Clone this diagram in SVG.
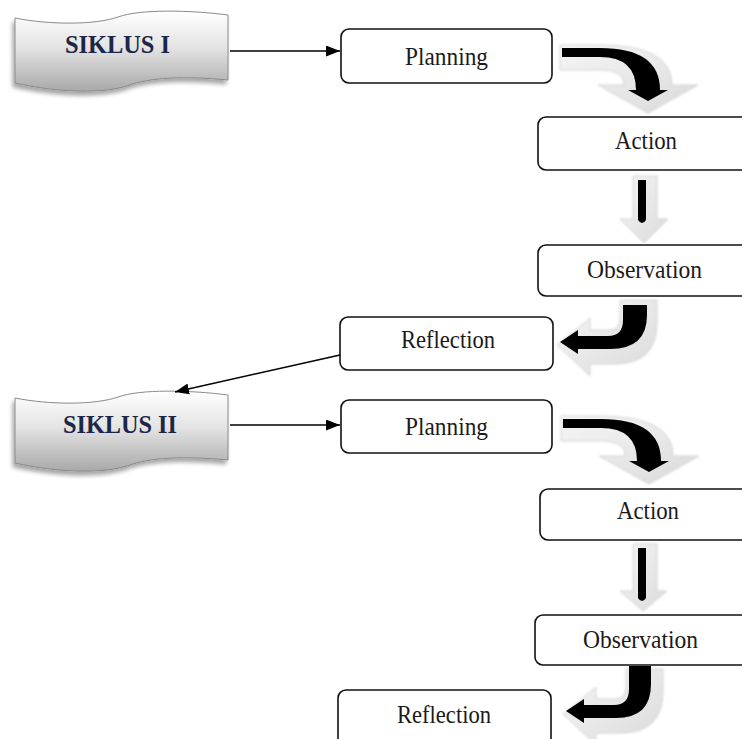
<svg xmlns="http://www.w3.org/2000/svg" width="742" height="739" viewBox="0 0 742 739">
<defs>
<linearGradient id="tapeGrad" x1="0" y1="0" x2="0" y2="1">
<stop offset="0" stop-color="#ffffff"/>
<stop offset="0.45" stop-color="#e4e4e4"/>
<stop offset="1" stop-color="#a9a9a9"/>
</linearGradient>
<linearGradient id="shGrad" x1="0" y1="0" x2="1" y2="1">
<stop offset="0" stop-color="#f6f6f6"/>
<stop offset="1" stop-color="#dadada"/>
</linearGradient>
<filter id="drop" x="-10%" y="-10%" width="130%" height="140%">
<feGaussianBlur in="SourceAlpha" stdDeviation="2"/>
<feOffset dx="-2" dy="4" result="b"/>
<feComponentTransfer><feFuncA type="linear" slope="0.35"/></feComponentTransfer>
<feMerge><feMergeNode/><feMergeNode in="SourceGraphic"/></feMerge>
</filter>
<filter id="soft" x="-20%" y="-20%" width="140%" height="140%">
<feGaussianBlur stdDeviation="1.2"/>
</filter>
<marker id="ah" viewBox="0 0 14 11" refX="14" refY="5.5" markerWidth="14" markerHeight="11" markerUnits="userSpaceOnUse" orient="auto">
<path d="M0,0 L14,5.5 L0,11 Z" fill="#000"/>
</marker>
<path id="tape" d="M15,18 C50,25 95,25 118,17 C140,9 190,10 228,15 L228,80 C185,76 150,77 127,86 C97,95 50,91 15,83 Z"/>
</defs>
<style>
.box{fill:#fff;stroke:#111;stroke-width:1.6}
.lbl{font-family:"Liberation Serif","Times New Roman",serif;font-size:26px;fill:#1a1a1a}
.tlbl{font-family:"Liberation Serif","Times New Roman",serif;font-size:26px;font-weight:bold;fill:#1c2748}
.tape{fill:url(#tapeGrad);stroke:#8a8a8a;stroke-width:1}
.conn{stroke:#000;stroke-width:1.5;fill:none}
.sh{fill:url(#shGrad);stroke:#d2d2d2;stroke-width:1}
.blk{fill:#000}
</style>

<g id="siklus1">
<use href="#tape" class="tape" filter="url(#drop)"/>
<text class="tlbl" x="65" y="53" textLength="105" lengthAdjust="spacingAndGlyphs">SIKLUS I</text>
</g>
<g id="siklus2">
<use href="#tape" class="tape" filter="url(#drop)" transform="translate(0,380)"/>
<text class="tlbl" x="63" y="433" textLength="114" lengthAdjust="spacingAndGlyphs">SIKLUS II</text>
</g>

<g id="planning1"><rect class="box" x="341" y="29" width="211" height="54" rx="8"/><text class="lbl" x="405" y="65" textLength="83" lengthAdjust="spacingAndGlyphs">Planning</text></g>
<g id="action1"><rect class="box" x="538" y="117" width="220" height="53" rx="8"/><text class="lbl" x="615" y="149" textLength="62" lengthAdjust="spacingAndGlyphs">Action</text></g>
<g id="observation1"><rect class="box" x="538" y="245" width="220" height="51" rx="8"/><text class="lbl" x="587" y="278" textLength="115" lengthAdjust="spacingAndGlyphs">Observation</text></g>
<g id="reflection1"><rect class="box" x="340" y="317" width="213" height="53" rx="8"/><text class="lbl" x="401" y="348" textLength="94" lengthAdjust="spacingAndGlyphs">Reflection</text></g>
<g id="planning2"><rect class="box" x="341" y="400" width="211" height="53" rx="8"/><text class="lbl" x="405" y="435" textLength="83" lengthAdjust="spacingAndGlyphs">Planning</text></g>
<g id="action2"><rect class="box" x="540" y="489" width="220" height="51" rx="8"/><text class="lbl" x="617" y="519" textLength="62" lengthAdjust="spacingAndGlyphs">Action</text></g>
<g id="observation2"><rect class="box" x="535" y="615" width="220" height="50" rx="8"/><text class="lbl" x="583" y="648" textLength="115" lengthAdjust="spacingAndGlyphs">Observation</text></g>
<g id="reflection2"><rect class="box" x="338" y="690" width="213" height="60" rx="8"/><text class="lbl" x="397" y="723" textLength="94" lengthAdjust="spacingAndGlyphs">Reflection</text></g>

<g id="connectors">
<line class="conn" x1="230" y1="51" x2="340" y2="51" marker-end="url(#ah)"/>
<line class="conn" x1="230" y1="425" x2="340" y2="425" marker-end="url(#ah)"/>
<line class="conn" x1="340" y1="355" x2="175" y2="392" marker-end="url(#ah)"/>

<!-- curved arrow Planning1 -> Action1 -->
<g id="curve1">
<path class="sh" filter="url(#soft)" d="M560,45 L600,45 Q672,45 672,85 L698,85 L648,113 L598,85 L624,85 Q624,70 600,70 L560,70 Z"/>
<path class="blk" d="M562,48 L600,48 Q660,48 660,90 L668,90 L648,101 L628,90 L636,90 Q636,57 600,57 L562,57 Z"/>
</g>
<!-- straight arrow Action1 -> Observation1 -->
<g id="down1">
<path class="sh" filter="url(#soft)" d="M633,176 L657,176 L657,219 L668,219 L644,243 L620,219 L633,219 Z"/>
<path class="blk" d="M638,180 L646,180 L646,220 Q642,226 638,220 Z"/>
</g>
<!-- curved arrow Observation1 -> Reflection1 -->
<g id="curve3">
<path class="sh" filter="url(#soft)" d="M620,300 L657,300 L657,322 Q657,364 615,364 L590,364 L590,376 L557,345 L590,318 L590,330 L610,330 Q620,330 620,318 Z"/>
<path class="blk" d="M623,305 L647,305 L647,315 Q647,349 610,349 L578,349 L578,354 L560,342 L578,330 L578,336 L608,336 Q623,336 623,320 Z"/>
</g>
<!-- curved arrow Planning2 -> Action2 -->
<g id="curve2" transform="translate(1,371)">
<path class="sh" filter="url(#soft)" d="M560,45 L600,45 Q672,45 672,85 L698,85 L648,113 L598,85 L624,85 Q624,70 600,70 L560,70 Z"/>
<path class="blk" d="M562,48 L600,48 Q660,48 660,90 L668,90 L648,101 L628,90 L636,90 Q636,57 600,57 L562,57 Z"/>
</g>
<!-- straight arrow Action2 -> Observation2 -->
<g id="down2">
<path class="sh" filter="url(#soft)" d="M633,544 L657,544 L657,591 L667,591 L643,611 L620,591 L633,591 Z"/>
<path class="blk" d="M638,548 L646,548 L646,598 Q642,604 638,598 Z"/>
</g>
<!-- curved arrow Observation2 -> Reflection2 -->
<g id="curve4" transform="translate(6,369)">
<path class="sh" filter="url(#soft)" d="M620,300 L657,300 L657,322 Q657,364 615,364 L590,364 L590,376 L557,345 L590,318 L590,330 L610,330 Q620,330 620,318 Z"/>
<path class="blk" d="M623,297 L645,297 L645,315 Q645,349 610,349 L578,349 L578,354 L560,342 L578,330 L578,336 L608,336 Q623,336 623,320 Z"/>
</g>
</g>
</svg>
